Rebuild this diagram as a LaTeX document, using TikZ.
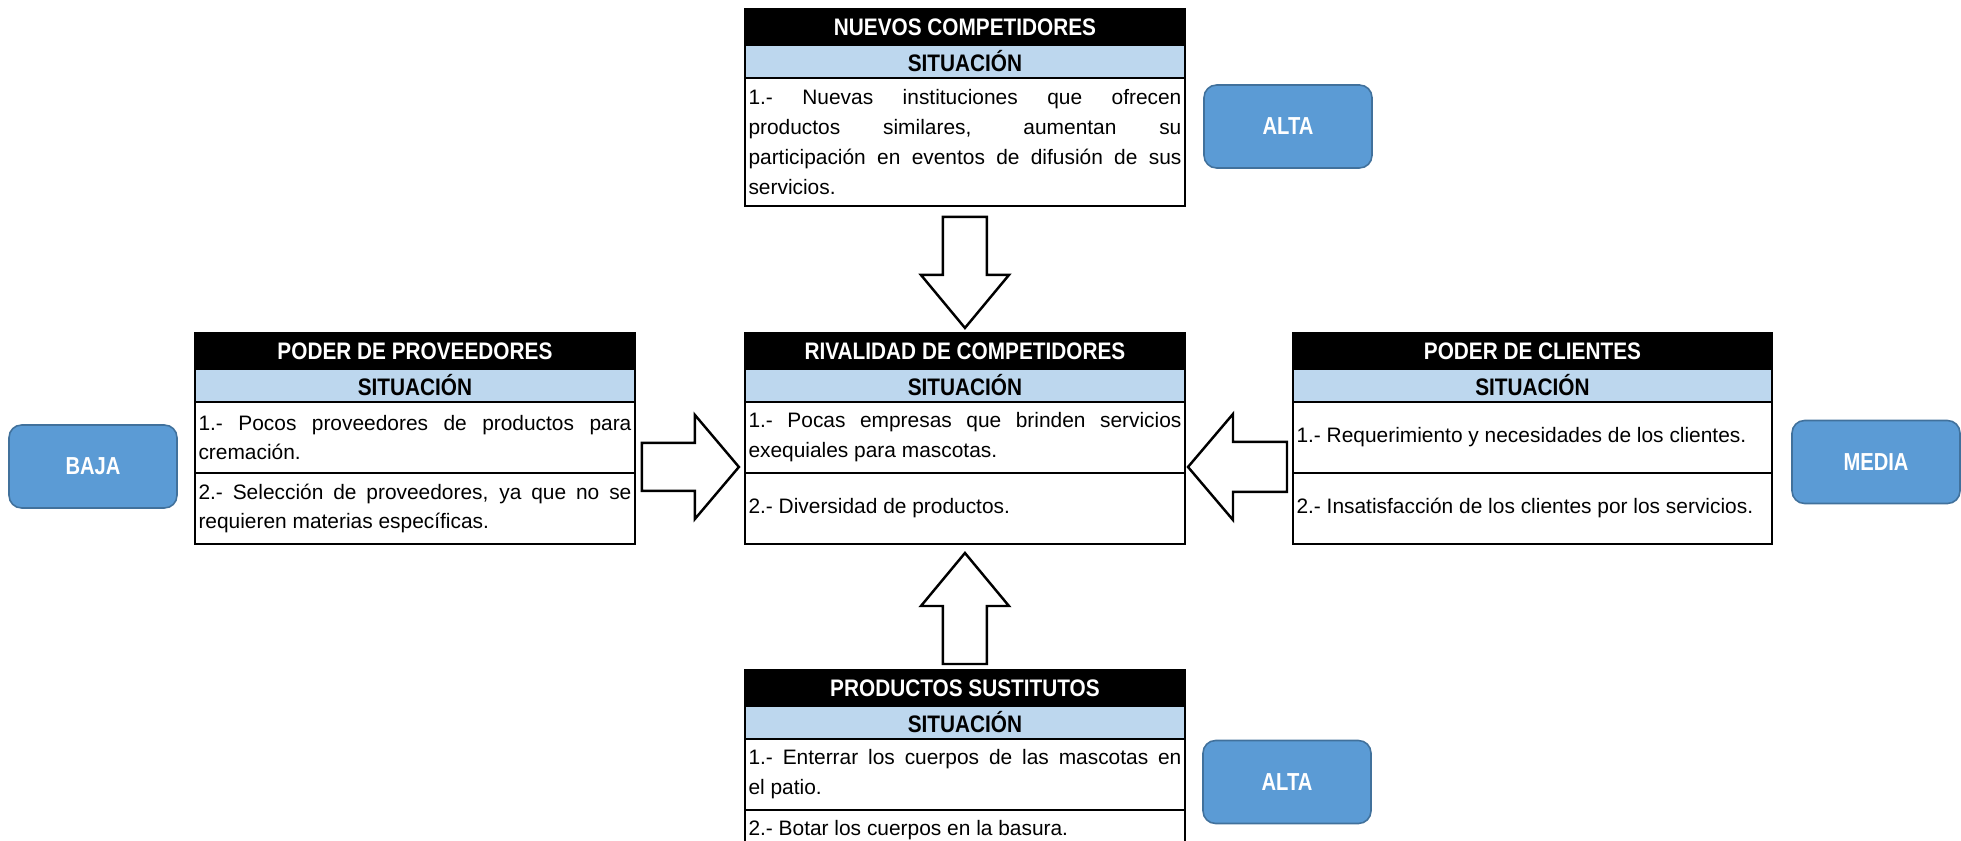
\documentclass[tikz,border=0pt]{standalone}
\usepackage{fontspec}
\setmainfont{Liberation Sans}
\newfontfamily\headfont{Liberation Sans}[FakeStretch=0.87]
\newfontfamily\levelfont{Liberation Sans}[FakeStretch=0.82]
\usepackage{tikz}
\usetikzlibrary{positioning, calc}
\definecolor{situblue}{HTML}{BDD7EE}
\definecolor{levelblue}{HTML}{5B9BD5}
\definecolor{leveledge}{HTML}{41719C}
\tolerance=10000
\hyphenpenalty=10000
\hbadness=10000
\tikzset{
  forcehead/.style={fill=black, draw=black, line width=1.3pt, text=white, outer sep=0pt, inner sep=0pt,
    minimum width=#1, minimum height=0.72cm, font=\headfont\fontsize{13.6}{15}\selectfont\bfseries},
  forcehead/.default=8.8cm,
  situband/.style={fill=situblue, draw=black, line width=1.3pt, text=black, outer sep=0pt, inner sep=0pt,
    minimum width=#1, minimum height=0.66cm, font=\headfont\fontsize{13.6}{15}\selectfont\bfseries},
  situband/.default=8.8cm,
  situcell/.style={draw=black, line width=1.3pt, outer sep=0pt, inner xsep=0.07cm, inner ysep=0pt,
    text width=#1, minimum height=1.42cm, align=justify, font=\fontsize{11.9}{17}\selectfont},
  situcell/.default=8.66cm,
  levelbox/.style={fill=levelblue, draw=leveledge, line width=0.9pt, rounded corners=0.25cm, text=white,
    minimum width=3.36cm, minimum height=1.66cm, font=\levelfont\fontsize{14}{16}\selectfont\bfseries},
  forceline/.style={draw=black, fill=white, line width=1.4pt, line join=miter}
}
% block arrow: tail, angle, length, shaft half width, head half width, head length
\newcommand{\forcearrow}[6]{%
  \draw[forceline, shift={(#1)}, rotate=#2]
    (0,-#4) -- ({#3-#6},-#4) -- ({#3-#6},-#5) -- (#3,0) -- ({#3-#6},#5) -- ({#3-#6},#4) -- (0,#4) -- cycle;}

\begin{document}
\begin{tikzpicture}[x=0.02cm, y=0.02cm]
  \useasboundingbox (0,0) rectangle (1961,-841);
  \clip (0,0) rectangle (1961,-841);

  % Nuevos competidores
  \node[forcehead, anchor=north west] (nuevosH) at (745,-9) {NUEVOS COMPETIDORES};
  \node[situband, below=0pt of nuevosH] (nuevosS) {SITUACIÓN};
  \node[situcell, minimum height=2.56cm, below=0pt of nuevosS] (nuevosB)
    {1.- Nuevas instituciones que ofrecen\linebreak productos similares, aumentan su\linebreak participación en eventos de difusión de sus\linebreak servicios.};
  \node[levelbox] (nuevosLv) at (1288,-126.5) {ALTA};

  % Poder de proveedores
  \node[forcehead, anchor=north west] (provH) at (195,-333) {PODER DE PROVEEDORES};
  \node[situband, below=0pt of provH] (provS) {SITUACIÓN};
  \node[situcell, below=0pt of provS] (provR1) {1.- Pocos proveedores de productos para\linebreak cremación.};
  \node[situcell, below=0pt of provR1] (provR2) {2.- Selección de proveedores, ya que no se\linebreak requieren materias específicas.};
  \node[levelbox] (provLv) at (93,-466.5) {BAJA};

  % Rivalidad de competidores
  \node[forcehead, anchor=north west] (rivH) at (745,-333) {RIVALIDAD DE COMPETIDORES};
  \node[situband, below=0pt of rivH] (rivS) {SITUACIÓN};
  \node[situcell, below=0pt of rivS] (rivR1) {1.- Pocas empresas que brinden servicios\linebreak exequiales para mascotas.};
  \node[situcell, below=0pt of rivR1] (rivR2) {2.- Diversidad de productos.};

  % Poder de clientes
  \node[forcehead=9.58cm, anchor=north west] (cliH) at (1293,-333) {PODER DE CLIENTES};
  \node[situband=9.58cm, below=0pt of cliH] (cliS) {SITUACIÓN};
  \node[situcell=9.44cm, below=0pt of cliS] (cliR1) {1.- Requerimiento y necesidades de los clientes.};
  \node[situcell=9.44cm, below=0pt of cliR1] (cliR2) {2.- Insatisfacción de los clientes por los servicios.};
  \node[levelbox] (cliLv) at (1876,-462) {MEDIA};

  % Productos sustitutos
  \node[forcehead, anchor=north west] (sustH) at (745,-670) {PRODUCTOS SUSTITUTOS};
  \node[situband, below=0pt of sustH] (sustS) {SITUACIÓN};
  \node[situcell, below=0pt of sustS] (sustR1) {1.- Enterrar los cuerpos de las mascotas en\linebreak el patio.};
  \node[situcell, minimum height=0.8cm, below=0pt of sustR1] (sustR2) {2.- Botar los cuerpos en la basura.};
  \node[levelbox] (sustLv) at (1287,-782) {ALTA};

  % Arrows into the rivalry box
  \coordinate (nuevosTail) at ($(nuevosB.south)+(0,-11)$);
  \coordinate (sustTail) at ($(sustH.north)+(0,6)$);
  \coordinate (provTail) at ($(provR1.south east)+(7,6)$);
  \coordinate (cliTail) at ($(cliR1.south west)+(-6,6)$);
  \forcearrow{nuevosTail}{-90}{111}{22}{44}{53}
  \forcearrow{sustTail}{90}{111}{22}{44}{53}
  \forcearrow{provTail}{0}{97}{24}{52}{44}
  \forcearrow{cliTail}{180}{99}{25}{53}{45}
\end{tikzpicture}
\end{document}
